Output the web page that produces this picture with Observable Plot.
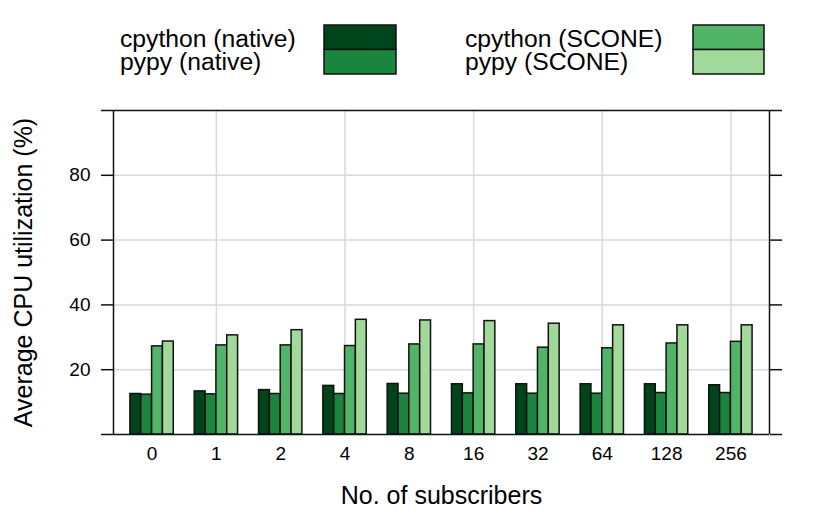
<!DOCTYPE html>
<html>
<head>
<meta charset="utf-8">
<script src="https://cdn.jsdelivr.net/npm/d3@7"></script>
<script src="https://cdn.jsdelivr.net/npm/@observablehq/plot@0.6"></script>
<style>
  body { margin: 0; background: #fff; font-family: "Liberation Sans", Arial, sans-serif; }
  #legend, #chart, #legend svg, #chart svg { display: block; }
</style>
</head>
<body>
<div id="legend"></div>
<div id="chart"></div>
<script>
const subscribers = ["0", "1", "2", "4", "8", "16", "32", "64", "128", "256"];
const seriesNames = ["cpython (native)", "pypy (native)", "cpython (SCONE)", "pypy (SCONE)"];
const seriesColors = ["#00441b", "#1b843d", "#52b469", "#a1d99b"];
const cpythonNative = [12.5, 13.3, 13.7, 15.0, 15.6, 15.5, 15.5, 15.5, 15.5, 15.2];
const pypyNative    = [12.3, 12.4, 12.5, 12.5, 12.6, 12.7, 12.6, 12.6, 12.8, 12.8];
const cpythonScone  = [27.2, 27.5, 27.5, 27.3, 27.8, 27.8, 26.8, 26.6, 28.1, 28.6];
const pypyScone     = [28.7, 30.6, 32.2, 35.4, 35.2, 35.0, 34.2, 33.7, 33.7, 33.7];
const yTicks = [0, 20, 40, 60, 80, 100];

const allSeries = [cpythonNative, pypyNative, cpythonScone, pypyScone];
const barW = 0.1685;
const rows = [];
allSeries.forEach((vals, j) => {
  vals.forEach((v, i) => {
    rows.push({i, j, series: seriesNames[j], value: v,
      x1: i + (j - 2) * barW, x2: i + (j - 1) * barW});
  });
});
const idx = subscribers.map((_, i) => i);
const gridX = idx.filter(i => i % 2 === 1);
const font = "Liberation Sans, Arial, sans-serif";

// Legend (above the plot)
const leg = d3.select("#legend").append("svg")
  .attr("width", 830).attr("height", 100)
  .style("font-family", font);
const groups = [
  {tx: 120, rx: 324, rw: 72, items: [0, 1]},
  {tx: 465, rx: 693, rw: 71, items: [2, 3]}
];
groups.forEach(g => {
  g.items.forEach((s, k) => {
    leg.append("text").attr("x", g.tx).attr("y", 47 + k * 23)
      .attr("font-size", 24.7).attr("fill", "#000").text(seriesNames[s]);
    leg.append("rect").attr("x", g.rx).attr("y", 25 + k * 24.5)
      .attr("width", g.rw).attr("height", 24.5)
      .attr("fill", seriesColors[s]).attr("stroke", "#111").attr("stroke-width", 1.5);
  });
});

const chart = Plot.plot({
  width: 830,
  height: 429,
  marginLeft: 113,
  marginRight: 61,
  marginTop: 10,
  marginBottom: 95,
  style: {fontFamily: font, background: "#fff"},
  x: {domain: [-0.6, 9.6], axis: null},
  y: {domain: [0, 100], axis: null},
  color: {domain: seriesNames, range: seriesColors},
  marks: [
    Plot.ruleY([20, 40, 60, 80], {stroke: "#d9d9d9", strokeWidth: 1.5}),
    Plot.ruleX(gridX, {stroke: "#d9d9d9", strokeWidth: 1.5}),
    Plot.rectY(rows, {x1: "x1", x2: "x2", y1: 0, y2: "value", fill: "series",
      stroke: "#111", strokeWidth: 1.5}),
    Plot.ruleX([-0.6, 9.6], {stroke: "#111", strokeWidth: 1.5}),
    Plot.axisY({anchor: "left", ticks: yTicks, tickSize: 12, tickPadding: 11,
      tickFormat: d => (d === 0 || d === 100) ? "" : d, fontSize: 19,
      stroke: "#111", strokeWidth: 1.5, label: null, color: "#000"}),
    Plot.axisY({anchor: "right", ticks: yTicks, tickSize: 12,
      tickFormat: () => "", stroke: "#111", strokeWidth: 1.5, label: null}),
    Plot.ruleY([0, 100], {stroke: "#111", strokeWidth: 1.5}),
    Plot.axisX({anchor: "bottom", ticks: idx, tickSize: 0, tickPadding: 12,
      tickFormat: i => subscribers[i], fontSize: 19, label: null, color: "#000"}),
    Plot.text(["No. of subscribers"], {frameAnchor: "bottom", dy: 69, fontSize: 25, fill: "#000", textAnchor: "middle"}),
    Plot.text(["Average CPU utilization (%)"], {frameAnchor: "left", dx: -90, rotate: -90, fontSize: 25, fill: "#000", textAnchor: "middle"})
  ]
});
document.getElementById("chart").appendChild(chart);
</script>
</body>
</html>
